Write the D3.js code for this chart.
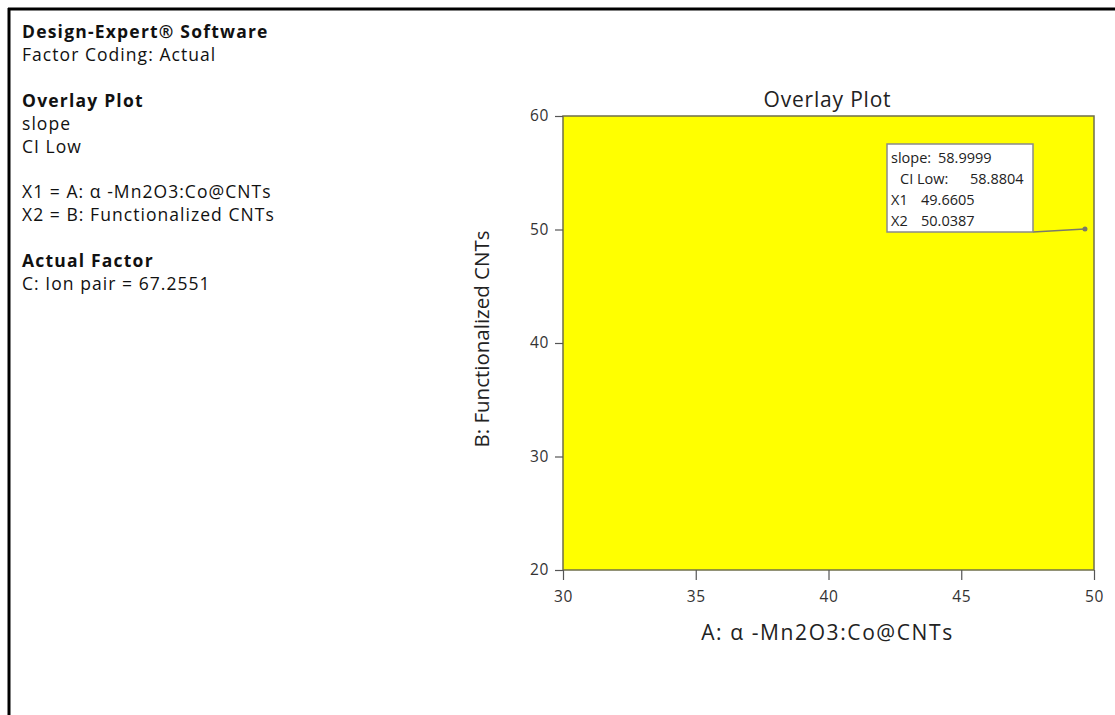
<!DOCTYPE html>
<html><head><meta charset="utf-8">
<script src="https://cdn.jsdelivr.net/npm/d3@7"></script>
<style>body{margin:0;background:#fff}svg{display:block}</style>
</head><body>
<script>
// ---- data ----
const xTicks = [30, 35, 40, 45, 50];
const yTicks = [20, 30, 40, 50, 60];
const xDomain = [30, 50];
const yDomain = [20, 60];
// feasible (yellow) overlay region: corners in factor units
const regionX = [30, 50];
const regionY = [20, 60];
const flagPoint = {x1: 49.6605, x2: 50.0387};
const flagLabels = ["slope:", "CI Low:", "X1", "X2"];
const flagValues = ["58.9999", "58.8804", "49.6605", "50.0387"];
const infoLines = [
  {t: "Design-Expert® Software", b: true},
  {t: "Factor Coding: Actual", b: false},
  {t: "", b: false},
  {t: "Overlay Plot", b: true},
  {t: "slope", b: false},
  {t: "CI Low", b: false},
  {t: "", b: false},
  {t: "X1 = A: α -Mn2O3:Co@CNTs", b: false},
  {t: "X2 = B: Functionalized CNTs", b: false},
  {t: "", b: false},
  {t: "Actual Factor", b: true},
  {t: "C: Ion pair = 67.2551", b: false}
];
const title = "Overlay Plot";
const xLabel = "A: α -Mn2O3:Co@CNTs";
const yLabel = "B: Functionalized CNTs";

// ---- drawing ----
const W = 1115, H = 715;
const font = "'Open Sans', 'Noto Sans', sans-serif";
const svg = d3.select("body").append("svg").attr("width", W).attr("height", H)
  .style("font-family", font);

// outer border (top and left)
svg.append("line").attr("x1", 8).attr("x2", W).attr("y1", 9).attr("y2", 9)
  .attr("stroke", "#000").attr("stroke-width", 3);
svg.append("line").attr("x1", 9).attr("x2", 9).attr("y1", 8).attr("y2", H)
  .attr("stroke", "#000").attr("stroke-width", 3);

// info text
const info = svg.append("g");
infoLines.forEach((d, i) => {
  info.append("text").attr("x", 22).attr("y", 38 + i * 22.9)
    .style("font-size", "17.5px").style("letter-spacing", d.b ? "1.2px" : "1.05px")
    .attr("font-weight", d.b ? 700 : 400)
    .attr("fill", "#111").text(d.t);
});

const L = 563, R = 1094, T = 116, B = 570;
const x = d3.scaleLinear().domain(xDomain).range([L, R]);
const y = d3.scaleLinear().domain(yDomain).range([B, T]);

// region
svg.append("rect")
  .attr("x", x(regionX[0])).attr("y", y(regionY[1]))
  .attr("width", x(regionX[1]) - x(regionX[0]))
  .attr("height", y(regionY[0]) - y(regionY[1]))
  .attr("fill", "#ffff00");

// frame
svg.append("rect").attr("x", L).attr("y", T).attr("width", R - L).attr("height", B - T)
  .attr("fill", "none").attr("stroke", "#6f6f4a").attr("stroke-width", 1.5);

// axes
const xAxis = svg.append("g").attr("transform", `translate(0,${B})`)
  .call(d3.axisBottom(x).tickValues(xTicks).tickSize(10).tickPadding(11).tickFormat(d3.format("d")));
const yAxis = svg.append("g").attr("transform", `translate(${L},0)`)
  .call(d3.axisLeft(y).tickValues(yTicks).tickSize(8).tickPadding(6).tickFormat(d3.format("d")));
[xAxis, yAxis].forEach(g => {
  g.attr("font-size", null).attr("font-family", null);
  g.select(".domain").remove();
  g.selectAll(".tick line").attr("stroke", "#555").attr("stroke-width", 1.2);
  g.selectAll(".tick text").style("font-size", "15.5px").attr("fill", "#333")
    .style("font-family", font).style("letter-spacing", "0.6px");
});

// titles
svg.append("text").attr("x", (L + R) / 2 - 1).attr("y", 107).attr("text-anchor", "middle")
  .style("font-size", "21px").style("letter-spacing", "0.8px").attr("fill", "#222").text(title);
svg.append("text").attr("x", (L + R) / 2 - 1).attr("y", 640).attr("text-anchor", "middle")
  .style("font-size", "21px").style("letter-spacing", "1.6px").attr("fill", "#222").text(xLabel);
svg.append("text").attr("transform", `translate(489,${(T + B) / 2 - 4}) rotate(-90)`)
  .attr("text-anchor", "middle").style("font-size", "20.5px").attr("fill", "#222").text(yLabel);

// flag
const px = x(flagPoint.x1), py = y(flagPoint.x2);
const bx = 887, by = 144, bw = 146, bh = 88;
svg.append("line").attr("x1", bx + bw).attr("y1", by + bh).attr("x2", px).attr("y2", py)
  .attr("stroke", "#7a7a6a").attr("stroke-width", 1.5);
svg.append("circle").attr("cx", px).attr("cy", py).attr("r", 2.5).attr("fill", "#7a7a6a");
svg.append("rect").attr("x", bx).attr("y", by).attr("width", bw).attr("height", bh)
  .attr("fill", "#fff").attr("stroke", "#8a8a8a").attr("stroke-width", 1.5);
const labX = [891, 900, 891, 891];
const valX = [938, 970, 921, 921];
flagLabels.forEach((lab, i) => {
  svg.append("text").attr("x", labX[i]).attr("y", 163 + i * 21).style("font-size", "14.5px")
    .attr("fill", "#222").text(lab);
  svg.append("text").attr("x", valX[i]).attr("y", 163 + i * 21).style("font-size", "14.5px")
    .attr("fill", "#222").text(flagValues[i]);
});
</script>
</body></html>
